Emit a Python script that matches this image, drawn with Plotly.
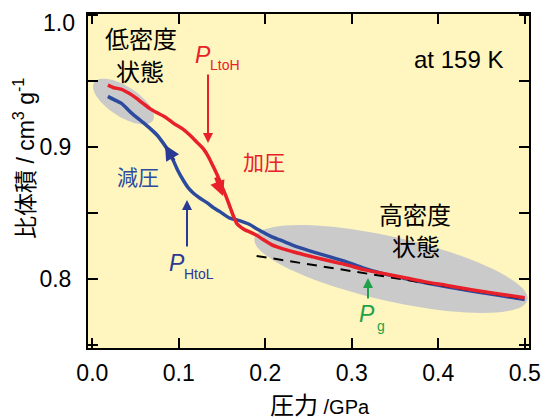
import numpy as np
import plotly.graph_objects as go

# ---------------- data ----------------
# compression run (加圧), pressure in GPa, specific volume in cm3/g
comp_p = [0.018, 0.025, 0.033, 0.042, 0.050, 0.057, 0.067, 0.075, 0.085, 0.094,
          0.104, 0.113, 0.122, 0.128, 0.134, 0.140, 0.145, 0.150, 0.155, 0.159,
          0.163, 0.167, 0.172, 0.177, 0.182, 0.190, 0.197, 0.207, 0.217, 0.235,
          0.255, 0.275, 0.294, 0.315, 0.333, 0.360, 0.385, 0.410, 0.440, 0.470, 0.500]
comp_v = [0.9470, 0.9450, 0.9440, 0.9410, 0.9375, 0.9340, 0.9290, 0.9260, 0.9225, 0.9180,
          0.9140, 0.9090, 0.9030, 0.8990, 0.8930, 0.8850, 0.8780, 0.8700, 0.8620, 0.8550,
          0.8480, 0.8420, 0.8390, 0.8370, 0.8356, 0.8330, 0.8300, 0.8260, 0.8235, 0.8200,
          0.8167, 0.8135, 0.8106, 0.8068, 0.8045, 0.8010, 0.7977, 0.7950, 0.7915, 0.7885, 0.7856]

# decompression run (減圧)
decomp_p = [0.018, 0.025, 0.034, 0.045, 0.058, 0.067, 0.075, 0.082, 0.088, 0.0935,
            0.099, 0.105, 0.111, 0.117, 0.125, 0.133, 0.140, 0.148, 0.159, 0.167,
            0.175, 0.182, 0.190, 0.197, 0.207, 0.217, 0.237, 0.255, 0.275, 0.294,
            0.313, 0.333, 0.360, 0.385, 0.410, 0.440, 0.470, 0.500]
decomp_v = [0.9385, 0.9360, 0.9330, 0.9260, 0.9190, 0.9140, 0.9090, 0.9030, 0.8970, 0.8900,
            0.8820, 0.8750, 0.8690, 0.8650, 0.8610, 0.8576, 0.8540, 0.8508, 0.8460, 0.8447,
            0.8430, 0.8412, 0.8380, 0.8355, 0.8320, 0.8295, 0.8242, 0.8205, 0.8167, 0.8129,
            0.8083, 0.8045, 0.8005, 0.7970, 0.7940, 0.7905, 0.7875, 0.7843]

# dashed linear guide (high-density branch)
fit_p = [0.19, 0.50]
fit_v = [0.8174, 0.7848]

x_tickvals = [0.0, 0.1, 0.2, 0.3, 0.4, 0.5]
x_ticktext = ["0.0", "0.1", "0.2", "0.3", "0.4", "0.5"]
y_tickvals = [0.75, 0.80, 0.85, 0.90, 0.95, 1.00]
y_ticktext = ["", "0.8", "", "0.9", "", ""]
y_top_label = "1.0"   # drawn separately, nudged below the frame top as in the reference

# ---------------- layout geometry ----------------
# the page body adds an 8 px offset; targets below are in window pixels
OFF = 8
W, H = 550 - OFF, 419 - OFF
PL, PT, PR, PB = 88, 14, 529, 348          # plot frame in window pixels
ML, MT = PL - OFF, PT - OFF
MR, MB = W - (PR - OFF), H - (PB - OFF)
PW, PH = PR - PL, PB - PT
X_RANGE = [-0.005, 0.505]
Y_RANGE = [0.7475, 1.001]

RED = "#E8202A"
BLUE = "#2D4B9E"
NAVY = "#2A3A94"
GREEN = "#1FA149"
GRAY = "#CACACA"
BG = "#FEF6BE"
FONT = "Arial, Liberation Sans, Noto Sans CJK JP, sans-serif"


def px_to_data(px, py):
    x = X_RANGE[0] + (px - PL) / PW * (X_RANGE[1] - X_RANGE[0])
    y = Y_RANGE[1] - (py - PT) / PH * (Y_RANGE[1] - Y_RANGE[0])
    return x, y


def px_to_paper(px, py):
    return (px - PL) / PW, (PB - py) / PH


def ellipse_path(cx, cy, a, b, ang_deg, n=80):
    t = np.linspace(0, 2 * np.pi, n, endpoint=False)
    th = np.deg2rad(ang_deg)
    ex = cx + a * np.cos(t) * np.cos(th) - b * np.sin(t) * np.sin(th)
    ey = cy + a * np.cos(t) * np.sin(th) + b * np.sin(t) * np.cos(th)
    pts = [px_to_data(u, v) for u, v in zip(ex, ey)]
    return "M " + " L ".join(f"{u:.5f},{v:.5f}" for u, v in pts) + " Z"


fig = go.Figure()
fig.add_trace(go.Scatter(x=decomp_p, y=decomp_v, mode="lines",
                         line=dict(color=BLUE, width=3.5, shape="spline", smoothing=0.6),
                         hoverinfo="skip", showlegend=False))
fig.add_trace(go.Scatter(x=fit_p, y=fit_v, mode="lines",
                         line=dict(color="black", width=2, dash="10px,7px"),
                         hoverinfo="skip", showlegend=False))
fig.add_trace(go.Scatter(x=comp_p, y=comp_v, mode="lines",
                         line=dict(color=RED, width=3.5, shape="spline", smoothing=0.6),
                         hoverinfo="skip", showlegend=False))

shapes = [
    dict(type="path", path=ellipse_path(123.5, 101.5, 35, 15, 33), xref="x", yref="y",
         fillcolor=GRAY, line=dict(width=0), layer="below"),
    dict(type="path", path=ellipse_path(391, 269, 140, 32, 12.8), xref="x", yref="y",
         fillcolor=GRAY, line=dict(width=0), layer="below"),
]

annotations = []


def text_at(px, py, txt, size, color="black", xanchor="center", **kw):
    xp, yp = px_to_paper(px, py)
    annotations.append(dict(x=xp, y=yp, xref="paper", yref="paper", text=txt,
                            showarrow=False, font=dict(size=size, color=color, family=FONT),
                            xanchor=xanchor, yanchor="middle", **kw))


def arrow_at(px, py, dx, dy, color, width, size=1.0, head=2):
    xp, yp = px_to_paper(px, py)
    annotations.append(dict(x=xp, y=yp, xref="paper", yref="paper", ax=dx, ay=dy,
                            axref="pixel", ayref="pixel", text="", showarrow=True,
                            arrowhead=head, arrowsize=size, arrowwidth=width,
                            arrowcolor=color, standoff=0, startstandoff=0))


# top y tick label
text_at(77, 23, y_top_label, 23, xanchor="right")

# region labels
text_at(141, 40, "低密度", 24)
text_at(140, 72, "状態", 24)
text_at(415, 215, "高密度", 24)
text_at(416, 247, "状態", 24)
text_at(458, 59, "at 159 K", 24)
text_at(264, 162, "加圧", 21, RED)
text_at(138, 177, "減圧", 21, BLUE)

# pressure markers
text_at(203, 55, "<i>P</i>", 23, RED)
text_at(225, 65, "LtoH", 14, RED)
arrow_at(208, 143, 0, -70, RED, 2)

text_at(177, 263, "<i>P</i>", 23, NAVY)
text_at(199, 274, "HtoL", 14, NAVY)
arrow_at(187, 200, 0, 48, NAVY, 2)

text_at(367, 314, "<i>P</i>", 23, GREEN)
text_at(381, 326, "g", 14, GREEN)
arrow_at(368, 278, 0, 22, GREEN, 2)

# direction arrows on curves
arrow_at(223, 196, -8, -20, RED, 3, 1.0, 2)
arrow_at(165, 145, 10, 17, NAVY, 3, 1.0, 2)

# axis titles
text_at(320, 405, "<span style='font-size:24px'>圧力</span> /GPa", 20)
xp, yp = px_to_paper(24, 159)
annotations.append(dict(x=xp, y=yp, xref="paper", yref="paper",
                        text="比体積 / cm<sup>3</sup> g<sup>-1</sup>", textangle=-90,
                        showarrow=False, font=dict(size=23, color="black", family=FONT),
                        xanchor="center", yanchor="middle"))

axis_common = dict(showline=True, linecolor="black", linewidth=2, mirror="ticks",
                   ticks="inside", ticklen=10, tickwidth=2, tickcolor="black",
                   showgrid=False, zeroline=False, automargin=False,
                   tickfont=dict(size=23, color="black", family=FONT))

fig.update_layout(
    width=W, height=H,
    margin=dict(l=ML, r=MR, t=MT, b=MB, autoexpand=False),
    paper_bgcolor="white", plot_bgcolor=BG,
    xaxis=dict(range=X_RANGE, tickmode="array", tickvals=x_tickvals, ticktext=x_ticktext,
               ticklabelstandoff=3, **axis_common),
    yaxis=dict(range=Y_RANGE, tickmode="array", tickvals=y_tickvals, ticktext=y_ticktext,
               ticklabelstandoff=10, **axis_common),
    shapes=shapes, annotations=annotations, showlegend=False,
)

fig.write_html("out.html")
